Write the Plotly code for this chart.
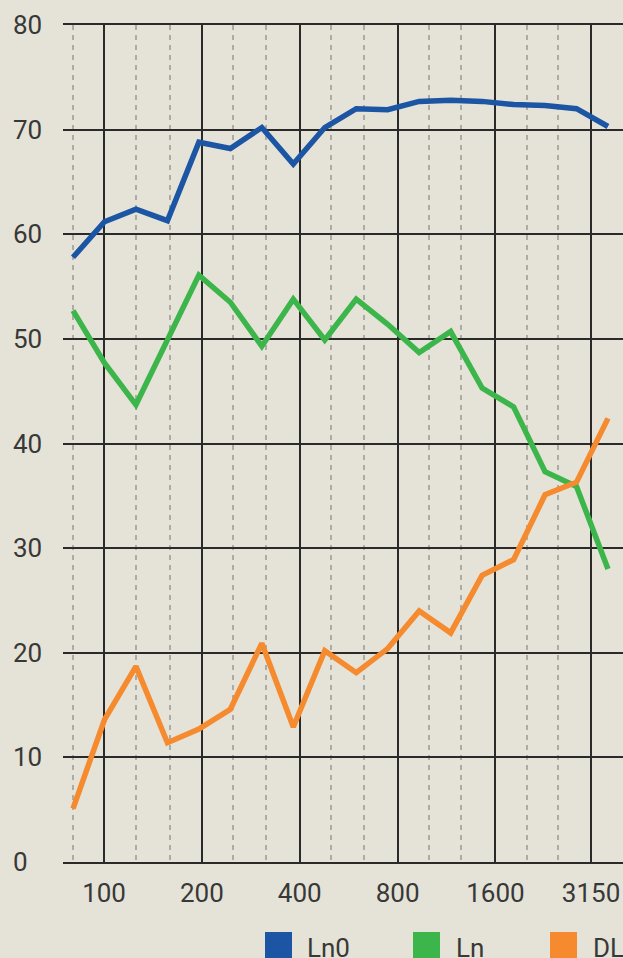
import math
import plotly.graph_objects as go

# One-third octave bands (Hz) and measured levels (dB)
bands = [80, 100, 125, 160, 200, 250, 315, 400, 500, 630, 800,
         1000, 1250, 1600, 2000, 2500, 3150, 4000]
ln0 = [57.8, 61.2, 62.4, 61.3, 68.8, 68.2, 70.2, 66.7, 70.2, 72.0, 71.9,
       72.7, 72.8, 72.7, 72.4, 72.3, 72.0, 70.3]
ln = [52.7, 47.7, 43.7, 49.9, 56.1, 53.5, 49.3, 53.8, 49.9, 53.8, 51.4,
      48.7, 50.7, 45.3, 43.5, 37.3, 35.9, 28.0]
dl = [5.1, 13.6, 18.7, 11.4, 12.7, 14.6, 20.9, 12.9, 20.2, 18.1, 20.4,
      24.0, 21.9, 27.4, 28.9, 35.1, 36.3, 42.4]

series_names = ["Ln0", "Ln", "DL"]
series_values = [ln0, ln, dl]
series_colors = ["#1B55A4", "#3CB54A", "#F58A2F"]

major_freqs = [100, 200, 400, 800, 1600, 3150]
minor_freqs = [80, 125, 160, 250, 315, 500, 630, 1000, 1250, 2000, 2500]
y_ticks = [0, 10, 20, 30, 40, 50, 60, 70, 80]

# Figure geometry
W, H = 623, 958
ML, MR, MT, MB = 63, 0, 25, 96
PW, PH = W - ML - MR, H - MT - MB

BG = "#E5E3D7"
TXT = "#383838"
GRID = "#2A2A2A"
DASH = "#ADABA3"
FONT = "Roboto, Arial, sans-serif"
FSIZE = 26


def paper_x(px):
    return (px - ML) / PW


def paper_y(py):
    return (H - MB - py) / PH


fig = go.Figure()

# Empty trace so the log-frequency grid axis is laid out and drawn
fig.add_trace(go.Scatter(x=[], y=[], xaxis="x", yaxis="y",
                         showlegend=False, hoverinfo="skip"))

band_labels = [str(b) for b in bands]
for name, vals, col in zip(series_names, series_values, series_colors):
    fig.add_trace(go.Scatter(
        x=band_labels, y=vals, name=name, mode="lines",
        line=dict(color=col, width=5.5),
        xaxis="x2", yaxis="y", showlegend=False,
        hoverinfo="x+y+name",
    ))

# Legend: coloured squares with labels below the plot
legend_square_left = [265, 413, 550]
legend_text_left = [305, 454, 591]
shapes = []
annotations = []
for name, col, sx, tx in zip(series_names, series_colors,
                             legend_square_left, legend_text_left):
    shapes.append(dict(
        type="rect", xref="paper", yref="paper",
        x0=paper_x(sx), x1=paper_x(sx + 27),
        y0=paper_y(959), y1=paper_y(932),
        fillcolor=col, line=dict(width=0), layer="above",
    ))
    annotations.append(dict(
        text=name, xref="paper", yref="paper",
        x=paper_x(tx), y=paper_y(948), xanchor="left", yanchor="middle",
        showarrow=False, font=dict(family=FONT, size=FSIZE, color=TXT),
    ))

# Value labels on the left, left-aligned
for v in y_ticks:
    annotations.append(dict(
        text=str(v), xref="paper", yref="y",
        x=paper_x(11), y=v, xanchor="left", yanchor="middle",
        showarrow=False, font=dict(family=FONT, size=FSIZE, color=TXT),
    ))

log_left = 1.8737
log_right = 3.5965

fig.update_layout(
    width=W, height=H,
    margin=dict(l=ML, r=MR, t=MT, b=MB, pad=0),
    paper_bgcolor=BG, plot_bgcolor=BG,
    font=dict(family=FONT, size=FSIZE, color=TXT),
    showlegend=False,
    shapes=shapes,
    annotations=annotations,
    xaxis=dict(
        type="log", range=[log_left, log_right], visible=True,
        tickvals=major_freqs, ticktext=[str(f) for f in major_freqs],
        showgrid=True, gridcolor=GRID, gridwidth=2,
        minor=dict(tickvals=minor_freqs, showgrid=True, gridcolor=DASH,
                   gridwidth=2, griddash="5px,5px", ticks=""),
        ticks="", ticklabelstandoff=7,
        tickfont=dict(family=FONT, size=FSIZE, color=TXT),
        showline=True, mirror=True, linecolor=GRID, linewidth=2,
        zeroline=False, fixedrange=True,
    ),
    xaxis2=dict(
        type="category", overlaying="x", anchor="y",
        categoryorder="array", categoryarray=band_labels,
        range=[-0.318, 17.477], visible=False, fixedrange=True,
    ),
    yaxis=dict(
        range=[0, 80], tickvals=y_ticks, showticklabels=False,
        showgrid=True, gridcolor=GRID, gridwidth=2,
        zeroline=False, showline=False, ticks="", fixedrange=True,
    ),
)

fig.write_html("out.html")
